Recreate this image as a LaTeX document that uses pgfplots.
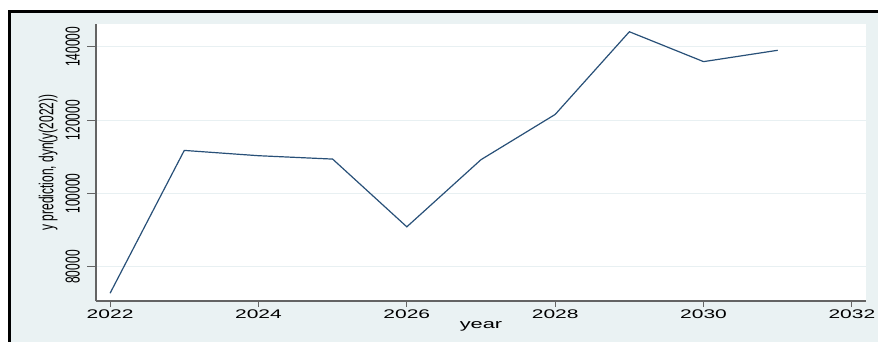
\documentclass[border=0pt]{standalone}
\usepackage{pgfplots}
\pgfplotsset{compat=1.18}
\usepackage{fontspec}
\setmainfont{Liberation Sans}
\definecolor{bgc}{RGB}{234,242,243}
\definecolor{gridc}{RGB}{232,240,242}
\definecolor{navyc}{RGB}{40,80,120}
\definecolor{axgray}{RGB}{100,100,100}
\newcommand{\sx}[1]{\scalebox{1.68}[1]{#1}}
\newcommand{\sy}[1]{\scalebox{1}[1.68]{#1}}
\pgfplotstableread{
year pred
2022 72860
2023 111750
2024 110310
2025 109390
2026 90940
2027 109230
2028 121550
2029 144070
2030 135930
2031 139020
}\predtable
\begin{document}
\begin{tikzpicture}
\useasboundingbox (0bp,0bp) rectangle (878bp,342bp);
\fill[white] (0bp,0bp) rectangle (878bp,342bp);
\fill[bgc] (8bp,0bp) rectangle (878bp,331bp);
\draw[black, line width=3bp] (9bp,0bp) -- (9bp,330.5bp) -- (878bp,330.5bp);
\begin{axis}[
  at={(96bp,41bp)}, anchor=south west,
  scale only axis, width=770bp, height=277bp,
  xmin=2021.81, xmax=2032.19, ymin=70740, ymax=146180,
  scaled y ticks=false, scaled x ticks=false,
  axis lines*=left,
  axis line style={axgray, line width=1.1bp},
  axis background/.style={fill=white},
  tick align=outside, major tick length=6bp,
  tick style={axgray, line width=1bp},
  ytick style={/pgfplots/major tick length=9bp},
  xtick={2022,2024,2026,2028,2030,2032},
  xticklabels={\sx{2022},\sx{2024},\sx{2026},\sx{2028},\sx{2030},\sx{2032}},
  ytick={80000,100000,120000,140000},
  yticklabels={\sy{80000},\sy{100000},\sy{120000},\sy{140000}},
  xticklabel style={font=\fontsize{12.5bp}{14bp}\selectfont, inner sep=0pt, anchor=north, yshift=-3bp},
  yticklabel style={font=\fontsize{12bp}{14bp}\selectfont, inner sep=0pt, rotate=90, anchor=south},
  yticklabel shift=10bp,
  xmajorgrids=false, ymajorgrids=true,
  major grid style={draw=gridc, line width=1bp},
  every axis x label/.style={at={(axis description cs:0.5,-0.0747)}, anchor=north, inner sep=0pt, font=\fontsize{13bp}{15bp}\selectfont},
  every axis y label/.style={at={(axis description cs:-0.062,0.5)}, anchor=center, rotate=90, inner sep=0pt, font=\fontsize{12bp}{14bp}\selectfont},
  xlabel={\sx{year}},
  ylabel={\sy{y prediction, dyn(y(2022))}},
]
\addplot[navyc, line width=1.2bp] table[x=year, y=pred] {\predtable};
\end{axis}
\end{tikzpicture}
\end{document}
